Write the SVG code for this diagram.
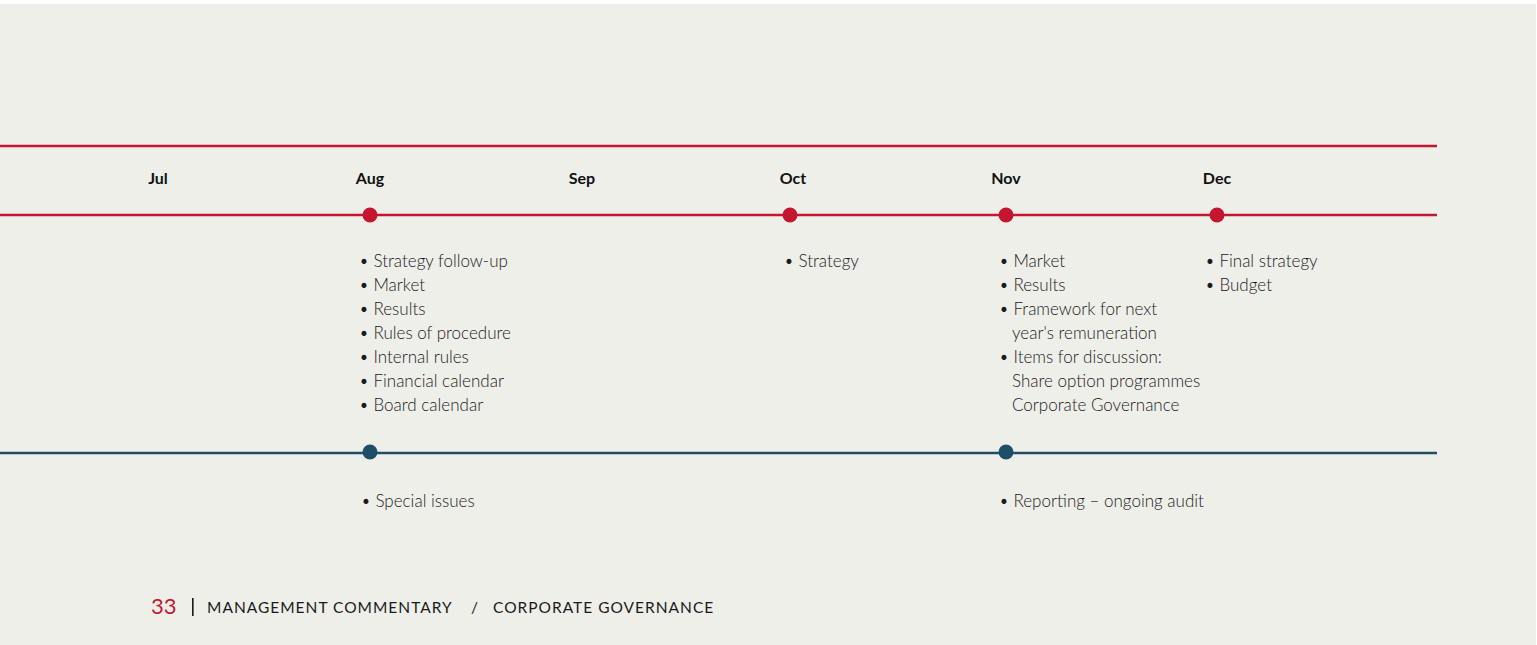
<svg xmlns="http://www.w3.org/2000/svg" width="1537" height="645" viewBox="0 0 1537 645">
  <style>
    .month { font-family: Lato, "Open Sans", sans-serif; font-weight: bold; font-size: 16px; fill: #111; text-anchor: middle; }
    .item { font-family: Lato, "Open Sans", sans-serif; font-weight: 300; font-size: 17px; fill: #1a1a1a; }
    .red { stroke: #C4162F; stroke-width: 2.5; fill: none; }
    .blue { stroke: #1F4F68; stroke-width: 2.5; fill: none; }
    .rdot { fill: #C4162F; }
    .bdot { fill: #1F4F68; }
    .foot { font-family: Lato, "Open Sans", sans-serif; font-size: 15.5px; fill: #1a1a1a; letter-spacing: 1px; }
  </style>
  <rect x="0" y="4" width="1536" height="641" fill="#EFEFEA"/>

  <!-- timeline rules -->
  <g id="connectors">
    <line class="red" x1="0" y1="146" x2="1437" y2="146"/>
    <line class="red" x1="0" y1="215" x2="1437" y2="215"/>
    <line class="blue" x1="0" y1="453" x2="1437" y2="453"/>
  </g>

  <!-- month headers -->
  <g id="months">
    <text class="month" x="158" y="184">Jul</text>
    <text class="month" x="370" y="184">Aug</text>
    <text class="month" x="582" y="184">Sep</text>
    <text class="month" x="793" y="184">Oct</text>
    <text class="month" x="1006" y="184">Nov</text>
    <text class="month" x="1217" y="184">Dec</text>
  </g>

  <!-- board meetings -->
  <g id="aug-board">
    <circle class="rdot" cx="370" cy="215" r="7.5"/>
    <text class="item" x="359" y="267">• Strategy follow-up</text>
    <text class="item" x="359" y="291">• Market</text>
    <text class="item" x="359" y="315">• Results</text>
    <text class="item" x="359" y="339">• Rules of procedure</text>
    <text class="item" x="359" y="363">• Internal rules</text>
    <text class="item" x="359" y="387">• Financial calendar</text>
    <text class="item" x="359" y="411">• Board calendar</text>
  </g>
  <g id="oct-board">
    <circle class="rdot" cx="790" cy="215" r="7.5"/>
    <text class="item" x="784" y="267">• Strategy</text>
  </g>
  <g id="nov-board">
    <circle class="rdot" cx="1006" cy="215" r="7.5"/>
    <text class="item" x="999" y="267">• Market</text>
    <text class="item" x="999" y="291">• Results</text>
    <text class="item" x="999" y="315">• Framework for next</text>
    <text class="item" x="1012" y="339">year's remuneration</text>
    <text class="item" x="999" y="363">• Items for discussion:</text>
    <text class="item" x="1012" y="387">Share option programmes</text>
    <text class="item" x="1012" y="411">Corporate Governance</text>
  </g>
  <g id="dec-board">
    <circle class="rdot" cx="1217" cy="215" r="7.5"/>
    <text class="item" x="1205" y="267">• Final strategy</text>
    <text class="item" x="1205" y="291">• Budget</text>
  </g>

  <!-- audit committee meetings -->
  <g id="aug-audit">
    <circle class="bdot" cx="370" cy="452" r="7.5"/>
    <text class="item" x="361" y="507">• Special issues</text>
  </g>
  <g id="nov-audit">
    <circle class="bdot" cx="1006" cy="452" r="7.5"/>
    <text class="item" x="999" y="507">• Reporting – ongoing audit</text>
  </g>

  <!-- page footer -->
  <g id="footer">
    <text x="151" y="614" font-family="Lato, 'Open Sans', sans-serif" font-size="22" fill="#C4162F">33</text>
    <rect x="192" y="598" width="1.6" height="18" fill="#1a1a1a"/>
    <text class="foot" x="207" y="613">MANAGEMENT COMMENTARY</text>
    <text class="foot" x="471" y="613">/</text>
    <text class="foot" x="493" y="613">CORPORATE GOVERNANCE</text>
  </g>
</svg>
